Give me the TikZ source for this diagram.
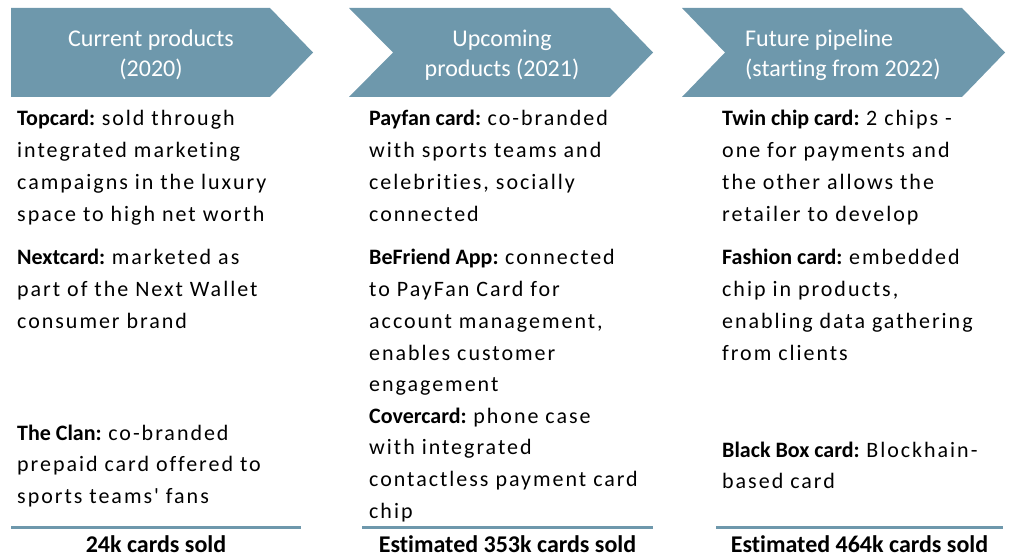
\documentclass[tikz,border=0pt]{standalone}
\usepackage{fontspec}
\setmainfont[Ligatures={TeX,NoCommon}]{Carlito}
\newfontfamily\spaced[LetterSpace=9,Ligatures=NoCommon]{Carlito}
\usetikzlibrary{positioning}
\definecolor{steel}{RGB}{110,152,172}
\newcommand{\lbl}[1]{{\normalfont\bfseries #1}}

\begin{document}
\begin{tikzpicture}[x=1bp,y=-1bp,
  head/.style={text=white,anchor=base,align=center,inner sep=0,font=\fontsize{24bp}{30bp}\selectfont},
  item/.style={anchor=base west,align=left,inner sep=0,font=\spaced\fontsize{22bp}{31.7bp}\selectfont},
  total/.style={anchor=base,inner sep=0,font=\fontsize{24bp}{29bp}\selectfont\bfseries},
  rule/.style={steel,line width=3bp}]
\useasboundingbox (0,0) rectangle (1013,556);
%% chevrons
\fill [steel] (11,8) -- (270,8) -- (313,52.5) -- (270,97) -- (11,97) -- cycle;
\fill [steel] (349,8) -- (610,8) -- (653,52.5) -- (610,97) -- (349,97) -- (393,52.5) -- cycle;
\fill [steel] (682,8) -- (962,8) -- (1005,52.5) -- (962,97) -- (682,97) -- (725,52.5) -- cycle;
% nodes sit on the baseline of their last line
\node (h1) at (151,77) [head] {Current products\\(2020)};
\node (h2) at (502,77) [head] {Upcoming\\products (2021)};
\node (h3) at (745,77) [head,anchor=base west,align=left] {Future pipeline\\(starting from 2022)};
%% current
\node (topc) at (17,221.1) [item] {\lbl{Topcard: }sold through\\integrated marketing\\campaigns in the luxury\\space to high net worth};
\node (nextc) at (17,328.4) [item] {\lbl{Nextcard: }marketed as\\part of the Next Wallet\\consumer brand};
\node (clan) at (17,503.4) [item] {\lbl{The Clan: }co-branded\\prepaid card offered to\\sports teams' fans};
%% upcoming
\node (payfan) at (369,221.1) [item] {\lbl{Payfan card: }co-branded\\with sports teams and\\celebrities, socially\\connected};
\node (befr) at (369,391.8) [item] {\lbl{BeFriend App: }connected\\to PayFan Card for\\account management,\\enables customer\\engagement};
\node (coverc) at (369,518.1) [item] {\lbl{Covercard: }phone case\\with integrated\\contactless payment card\\chip};
%% pipeline
\node (twin) at (722,221.1) [item] {\lbl{Twin chip card: }2 chips -\\one for payments and\\the other allows the\\retailer to develop};
\node (fash) at (722,360.1) [item] {\lbl{Fashion card: }embedded\\chip in products,\\enabling data gathering\\from clients};
\node (bbox) at (722,488.7) [item] {\lbl{Black Box card: }Blockhain-\\based card};
%% totals
\draw [rule] (11,527) -- (301,527);
\draw [rule] (362,527) -- (653,527);
\draw [rule] (716,527) -- (1003,527);
\node (s1) at (156,552) [total] {24k cards sold};
\node (s2) at (507.5,552) [total] {Estimated 353k cards sold};
\node (s3) at (859.5,552) [total] {Estimated 464k cards sold};
%
\end{tikzpicture}
\end{document}
